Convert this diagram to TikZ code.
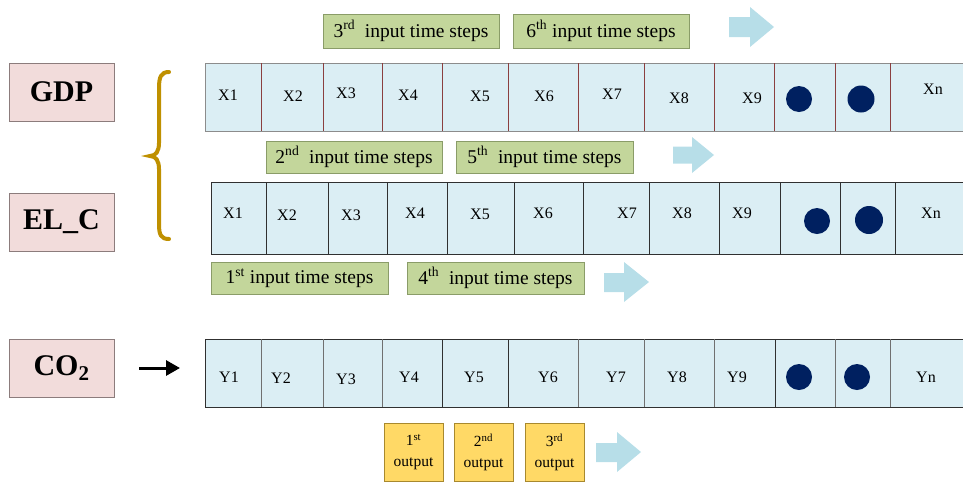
\documentclass[tikz,border=0pt]{standalone}
\usepackage{fontspec}
\setmainfont{Liberation Serif}
\usetikzlibrary{arrows.meta}
\definecolor{pinkf}{HTML}{F2DCDB}
\definecolor{pinkb}{HTML}{8C7C7C}
\definecolor{greenf}{HTML}{C3D69B}
\definecolor{greenb}{HTML}{8A9C68}
\definecolor{yelf}{HTML}{FFD966}
\definecolor{yelb}{HTML}{A8892E}
\definecolor{rowf}{HTML}{DBEEF4}
\definecolor{arrowc}{HTML}{B7DEE8}
\definecolor{dotc}{HTML}{002060}
\definecolor{bracec}{HTML}{BF9000}
\definecolor{redline}{HTML}{8B3F3F}
\definecolor{grayline}{HTML}{8C8C8C}
\definecolor{darkline}{HTML}{303030}
\begin{document}
\begin{tikzpicture}[x=1pt,y=-1pt,
  lab/.style={draw=pinkb, fill=pinkf, line width=0.8pt, minimum width=105pt, minimum height=58pt, inner sep=0pt, font=\fontsize{30}{32}\selectfont\bfseries},
  gbox/.style={draw=greenb, fill=greenf, line width=0.8pt, minimum height=33pt, minimum width=176pt, inner sep=0pt, font=\fontsize{19.5}{22}\selectfont},
  ybox/.style={draw=yelb, fill=yelf, line width=0.8pt, minimum height=58pt, minimum width=59pt, inner sep=0pt, align=center, font=\fontsize{15.5}{21}\selectfont},
  cell/.style={font=\fontsize{16}{18}\selectfont, inner sep=0pt},
  blk/.style={fill=arrowc},
  dotn/.style={circle, fill=dotc, inner sep=0pt, minimum size=26pt},
  rowbox/.style={fill=rowf, line width=0.8pt}
]
\useasboundingbox (0,0) rectangle (963,483);

% ---------- label boxes ----------
\node[lab] (gdp) at (61.5,92) {GDP};
\node[lab] (elc) at (61.5,222) {EL\_C};
\node[lab] (co2) at (61.5,368) {CO\textsubscript{2}};

% ---------- brace ----------
\draw[bracec, line width=4pt, line cap=round]
  (169,72) .. controls (161,72) and (159,77) .. (159,88) -- (159,143)
  .. controls (159,151) and (156,156) .. (150,156)
  .. controls (156,156) and (159,161) .. (159,169) -- (159,224)
  .. controls (159,235) and (161,239) .. (169,239);

% ---------- GDP row ----------
\fill[rowf] (205,63) rectangle (963,131);
\draw[grayline, line width=0.8pt] (963,63) -- (205,63) -- (205,131) -- (963,131);
\foreach \x in {261,323,382,442,508,578,644,714,774,835,890}
  \draw[redline, line width=0.8pt] (\x,63) -- (\x,131);
\node[cell] (g1) at (228,95) {X1};
\node[cell] (g2) at (293,96) {X2};
\node[cell] (g3) at (346,93) {X3};
\node[cell] (g4) at (408,95) {X4};
\node[cell] (g5) at (480,96) {X5};
\node[cell] (g6) at (544,96) {X6};
\node[cell] (g7) at (612,94) {X7};
\node[cell] (g8) at (679,98) {X8};
\node[cell] (g9) at (752,98) {X9};
\node[dotn] (gd1) at (799,99) {};
\node[dotn, minimum size=27pt] (gd2) at (861,99) {};
\node[cell] (gn) at (933,89) {Xn};

% ---------- EL_C row ----------
\fill[rowf] (211,182) rectangle (963,254);
\draw[darkline, line width=0.8pt] (963,182) -- (211,182) -- (211,254) -- (963,254);
\foreach \x in {266,328,387,447,514,583,649,719,780,840,895}
  \draw[darkline, line width=0.8pt] (\x,182) -- (\x,254);
\node[cell] (e1) at (233,213) {X1};
\node[cell] (e2) at (287,215) {X2};
\node[cell] (e3) at (351,215) {X3};
\node[cell] (e4) at (415,213) {X4};
\node[cell] (e5) at (480,214) {X5};
\node[cell] (e6) at (543,213) {X6};
\node[cell] (e7) at (627,213) {X7};
\node[cell] (e8) at (682,213) {X8};
\node[cell] (e9) at (742,213) {X9};
\node[dotn] (ed1) at (817,221) {};
\node[dotn, minimum size=28pt] (ed2) at (869,220) {};
\node[cell] (en) at (931,213) {Xn};

% ---------- CO2 row ----------
\fill[rowf] (205,339) rectangle (963,407);
\draw[darkline, line width=0.8pt] (963,339) -- (205,339) -- (205,407) -- (963,407);
\foreach \x in {261,323,382,578,644,714,835,890}
  \draw[grayline!80!black, line width=0.8pt] (\x,339) -- (\x,407);
\foreach \x in {442,508,775}
  \draw[darkline, line width=0.8pt] (\x,339) -- (\x,407);
\node[cell] (c1) at (229,377) {Y1};
\node[cell] (c2) at (281,378) {Y2};
\node[cell] (c3) at (346,379) {Y3};
\node[cell] (c4) at (409,377) {Y4};
\node[cell] (c5) at (474,377) {Y5};
\node[cell] (c6) at (548,377) {Y6};
\node[cell] (c7) at (616,377) {Y7};
\node[cell] (c8) at (677,377) {Y8};
\node[cell] (c9) at (737,377) {Y9};
\node[dotn] (cd1) at (799,377) {};
\node[dotn] (cd2) at (857,377) {};
\node[cell] (cn) at (926,377) {Yn};

% ---------- black arrow ----------
\coordinate (ba) at (139,368);
\coordinate (bb) at (180,368);
\draw[line width=3pt, -{Triangle[length=14pt,width=15pt]}] (ba) -- (bb);

% ---------- green labels ----------
\node[gbox, minimum height=34pt] (t3) at (411,31) {3\textsuperscript{rd}\ \ input time steps};
\node[gbox, minimum height=34pt] (t6) at (601,31) {6\textsuperscript{th} input time steps};
\node[gbox, minimum height=32pt] (t2) at (354,157) {2\textsuperscript{nd}\ \ input time steps};
\node[gbox, minimum height=32pt, minimum width=177pt] (t5) at (544.5,157) {5\textsuperscript{th}\ \ input time steps};
\node[gbox, minimum height=32pt, minimum width=177pt] (t1) at (299.5,278) {1\textsuperscript{st} input time steps};
\node[gbox, minimum height=32pt, minimum width=177pt] (t4) at (495.5,278) {4\textsuperscript{th}\ \ input time steps};

% ---------- output boxes ----------
\node[ybox] (o1) at (413.5,452) {1\textsuperscript{st}\\output};
\node[ybox] (o2) at (483.5,452) {2\textsuperscript{nd}\\output};
\node[ybox] (o3) at (554.5,452) {3\textsuperscript{rd}\\output};

% ---------- block arrows ----------
\fill[blk] (729,17) -- (750,17) -- (750,7) -- (774,27) -- (750,47) -- (750,37) -- (729,37) -- cycle;
\fill[blk] (673,146.5) -- (692,146.5) -- (692,137) -- (714,155) -- (692,173) -- (692,163.5) -- (673,163.5) -- cycle;
\fill[blk] (604,273) -- (624,273) -- (624,262) -- (649,282) -- (624,302) -- (624,292) -- (604,292) -- cycle;
\fill[blk] (596,443) -- (617,443) -- (617,432) -- (641,452) -- (617,472) -- (617,462) -- (596,462) -- cycle;
\end{tikzpicture}
\end{document}
